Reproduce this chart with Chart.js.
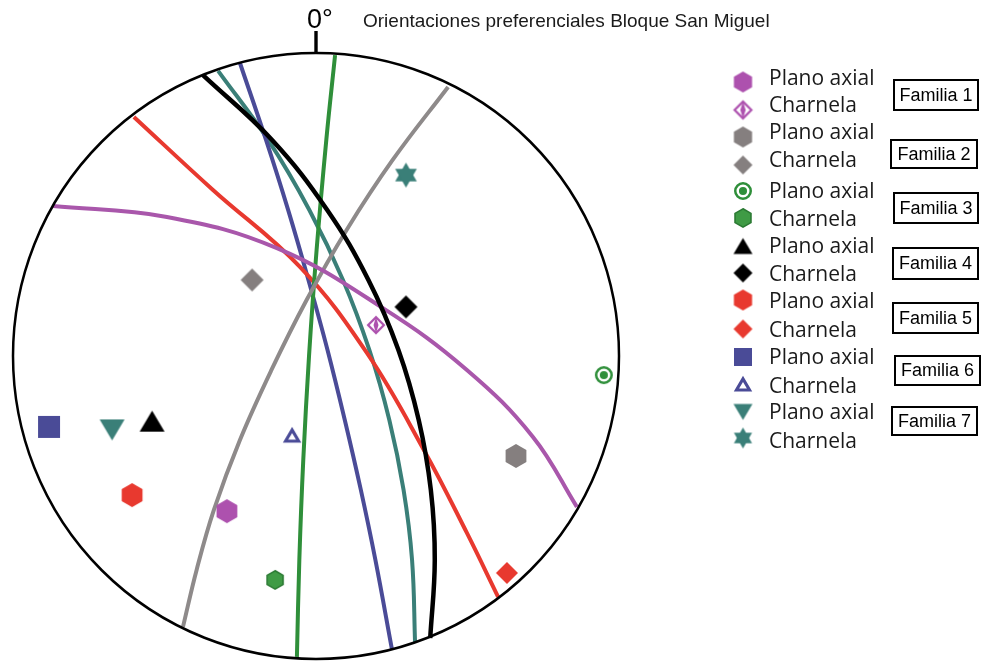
<!DOCTYPE html>
<html>
<head>
<meta charset="utf-8">
<script src="https://cdn.jsdelivr.net/npm/chart.js@4"></script>
<style>
  html, body { margin: 0; padding: 0; background: #ffffff; }
  canvas { display: block; }
</style>
</head>
<body>
<canvas id="c" width="984" height="661"></canvas>
<script>
// Familias de pliegues y tipo de elemento medido
const familias = ['Familia 1', 'Familia 2', 'Familia 3', 'Familia 4', 'Familia 5', 'Familia 6', 'Familia 7'];
const tipos = ['Plano axial', 'Charnela'];

// Polos proyectados (círculo unidad, norte arriba)
const planoAxialX = [-0.294, 0.660, 0.950, -0.541, -0.607, -0.881, -0.673];
const planoAxialY = [-0.512, -0.330, -0.063, -0.215, -0.459, -0.234, -0.244];
const charnelaX   = [ 0.198, -0.211, -0.135, 0.297, 0.630, -0.079, 0.297];
const charnelaY   = [ 0.102,  0.251, -0.739, 0.162, -0.716, -0.261, 0.597];

// Círculos máximos de los planos axiales
const circulo1 = [[-0.868, 0.495], [-0.492, 0.459], [-0.129, 0.356], [0.221, 0.158], [0.498, -0.046], [0.716, -0.267], [0.861, -0.498]];
const circulo2 = [[0.436, 0.888], [0.253, 0.647], [0.101, 0.416], [-0.031, 0.185], [-0.147, -0.046], [-0.251, -0.277], [-0.337, -0.508], [-0.394, -0.706], [-0.439, -0.894]];
const circulo3 = [[0.063, 0.993], [0.034, 0.713], [0.002, 0.350], [-0.023, 0.000], [-0.042, -0.343], [-0.055, -0.673], [-0.063, -0.993]];
const circulo4 = [[-0.373, 0.927], [-0.145, 0.713], [0.037, 0.482], [0.173, 0.251], [0.272, 0.020], [0.339, -0.211], [0.379, -0.442], [0.392, -0.673], [0.377, -0.931]];
const circulo5 = [[-0.601, 0.789], [-0.340, 0.548], [-0.053, 0.294], [0.168, 0.010], [0.356, -0.310], [0.498, -0.584], [0.601, -0.795]];
const circulo6 = [[-0.251, 0.967], [-0.165, 0.713], [-0.092, 0.482], [-0.025, 0.251], [0.038, 0.020], [0.095, -0.211], [0.148, -0.442], [0.196, -0.673], [0.251, -0.970]];
const circulo7 = [[-0.323, 0.941], [-0.158, 0.713], [-0.022, 0.482], [0.089, 0.251], [0.176, 0.020], [0.242, -0.211], [0.289, -0.442], [0.317, -0.673], [0.327, -0.947]];
const circulos = [circulo1, circulo2, circulo3, circulo4, circulo5, circulo6, circulo7];

// Estilos
const colorMarca = ['#AD51AE', '#857F7F', '#2F8F3A', '#000000', '#E8392F', '#4A4B97', '#3A7F78'];
const colorLinea = ['#A957AB', '#8E8A8A', '#2F8F3A', '#000000', '#E8392F', '#4A4B97', '#3A7F78'];
const anchoLinea = [4, 4, 4, 4.5, 4, 4, 4];

function poly(g, cx, cy, r, n, start) {
  g.beginPath();
  for (let k = 0; k < n; k++) {
    const a = (start + k * 360 / n) * Math.PI / 180;
    const px = cx + r * Math.cos(a), py = cy + r * Math.sin(a);
    if (k === 0) g.moveTo(px, py); else g.lineTo(px, py);
  }
  g.closePath();
}

// Dibuja un símbolo en un lienzo pequeño para usarlo como pointStyle
function marca(kind, s, color) {
  const w = Math.ceil(s + 6);
  const c = document.createElement('canvas');
  c.width = w; c.height = w;
  const g = c.getContext('2d');
  const m = w / 2, r = s / 2;
  g.fillStyle = color; g.strokeStyle = color;
  g.lineJoin = 'miter';
  switch (kind) {
    case 'hex':
      poly(g, m, m, r, 6, -90); g.fill(); break;
    case 'hexBorde':
      poly(g, m, m, r - 0.8, 6, -90); g.fillStyle = '#3F9B45'; g.fill();
      g.lineWidth = 1.6; g.strokeStyle = '#2B7A33'; g.stroke(); break;
    case 'rombo':
      poly(g, m, m, r, 4, -90); g.fill(); break;
    case 'romboAbierto':
      poly(g, m, m, r - 1.1, 4, -90); g.lineWidth = 2.2; g.stroke();
      g.beginPath();
      g.moveTo(m, m - r + 1); g.lineTo(m + r * 0.28, m); g.lineTo(m, m + r - 1); g.lineTo(m - r * 0.28, m);
      g.closePath(); g.fill(); break;
    case 'diana':
      g.lineWidth = s * 0.14;
      g.beginPath(); g.arc(m, m, r - s * 0.07, 0, Math.PI * 2); g.stroke();
      g.beginPath(); g.arc(m, m, r * 0.45, 0, Math.PI * 2); g.fill(); break;
    case 'triangulo': {
      const h = s * 0.84;
      g.beginPath(); g.moveTo(m, m - h / 2); g.lineTo(m + r, m + h / 2); g.lineTo(m - r, m + h / 2); g.closePath(); g.fill(); break;
    }
    case 'trianguloInv': {
      const h = s * 0.84;
      g.beginPath(); g.moveTo(m, m + h / 2); g.lineTo(m + r, m - h / 2); g.lineTo(m - r, m - h / 2); g.closePath(); g.fill(); break;
    }
    case 'trianguloAbierto': {
      const h = s * 0.84, lw = s * 0.17;
      g.lineWidth = lw; g.lineJoin = 'miter';
      g.beginPath(); g.moveTo(m, m - h / 2 + lw * 0.8); g.lineTo(m + r - lw * 0.8, m + h / 2 - lw / 2); g.lineTo(m - r + lw * 0.8, m + h / 2 - lw / 2); g.closePath();
      g.fillStyle = '#ffffff'; g.fill(); g.stroke(); break;
    }
    case 'cuadrado':
      g.fillRect(m - r, m - r, s, s); break;
    case 'estrella':
      poly(g, m, m, r, 3, -90); g.fill();
      poly(g, m, m, r, 3, 90); g.fill(); break;
  }
  return c;
}

const formaPA = ['hex', 'hex', 'diana', 'triangulo', 'hex', 'cuadrado', 'trianguloInv'];
const tamPA   = [24, 24, 18, 25, 24, 22, 25];
const formaCH = ['romboAbierto', 'rombo', 'hexBorde', 'rombo', 'rombo', 'trianguloAbierto', 'estrella'];
const tamCH   = [18, 23, 20, 23, 22, 18, 25];
const tamLeyPA = [21, 21, 18, 19, 21, 18, 19];
const tamLeyCH = [19, 19, 20, 19, 19, 18, 21];

const estilosPA = formaPA.map((f, i) => marca(f, tamPA[i], colorMarca[i]));
const estilosCH = formaCH.map((f, i) => marca(f, tamCH[i], colorMarca[i]));
const leyPA = formaPA.map((f, i) => marca(f, tamLeyPA[i], colorMarca[i]));
const leyCH = formaCH.map((f, i) => marca(f, tamLeyCH[i], colorMarca[i]));

const datasets = [];
datasets.push({
  label: tipos[0],
  data: planoAxialX.map((x, i) => ({ x: x, y: planoAxialY[i] })),
  pointStyle: estilosPA, pointRadius: 10, showLine: false, order: 0
});
datasets.push({
  label: tipos[1],
  data: charnelaX.map((x, i) => ({ x: x, y: charnelaY[i] })),
  pointStyle: estilosCH, pointRadius: 10, showLine: false, order: 0
});
circulos.forEach((cc, i) => {
  datasets.push({
    label: familias[i],
    data: cc.map(p => ({ x: p[0], y: p[1] })),
    showLine: true, fill: false, tension: 0.4,
    borderColor: colorLinea[i], borderWidth: anchoLinea[i],
    pointRadius: 0, order: 1 + (i === 3 ? 0 : 1)
  });
});

// Primitiva de la red, marca del norte, título y leyenda
const estereograma = {
  id: 'estereograma',
  afterDatasetsDraw(chart) {
    const ctx = chart.ctx, sx = chart.scales.x, sy = chart.scales.y;
    const cx = sx.getPixelForValue(0), cy = sy.getPixelForValue(0);
    const r = sx.getPixelForValue(1) - cx;
    ctx.save();
    ctx.strokeStyle = '#000'; ctx.lineWidth = 2.5;
    ctx.beginPath(); ctx.arc(cx, cy, r, 0, Math.PI * 2); ctx.stroke();
    ctx.lineWidth = 3.4;
    ctx.beginPath(); ctx.moveTo(cx, cy - r + 1); ctx.lineTo(cx, cy - r - 22); ctx.stroke();
    ctx.restore();
  },
  afterDraw(chart) {
    const ctx = chart.ctx;
    ctx.save();
    ctx.fillStyle = '#000';
    ctx.textBaseline = 'alphabetic';
    ctx.font = '27px "Liberation Sans", Arial, sans-serif';
    ctx.fillText('0°', 307, 28);
    ctx.font = '19px "Liberation Sans", Arial, sans-serif';
    ctx.fillStyle = '#1a1a1a';
    ctx.fillText('Orientaciones preferenciales Bloque San Miguel', 363, 27);

    // leyenda
    const yTexto = [77, 104, 131, 159, 190, 218, 245, 273, 300, 329, 356, 385, 411, 440];
    const yMarca = [82, 110, 137, 165, 191, 218, 246, 273, 300, 329, 357, 384, 412, 438];
    ctx.font = '21px "Open Sans", sans-serif';
    ctx.fillStyle = '#1a1a1a';
    for (let i = 0; i < familias.length; i++) {
      for (let t = 0; t < 2; t++) {
        const row = 2 * i + t;
        const img = t === 0 ? leyPA[i] : leyCH[i];
        ctx.drawImage(img, 743 - img.width / 2, yMarca[row] - img.height / 2);
        ctx.fillText(tipos[t], 769, yTexto[row] + 7.5);
      }
    }
    const cajas = [[894, 80, 978, 110], [891, 140, 977, 168], [894, 193, 978, 223], [893, 248, 978, 279],
                   [893, 303, 978, 333], [895, 356, 980, 385], [892, 407, 977, 435]];
    ctx.lineWidth = 2; ctx.strokeStyle = '#000';
    ctx.font = '18px "Liberation Sans", Arial, sans-serif';
    ctx.textAlign = 'center';
    ctx.textBaseline = 'middle';
    cajas.forEach((b, i) => {
      ctx.strokeRect(b[0], b[1], b[2] - b[0], b[3] - b[1]);
      ctx.fillStyle = '#000';
      ctx.fillText(familias[i], (b[0] + b[2]) / 2, (b[1] + b[3]) / 2 + 1);
    });
    ctx.restore();
  }
};

new Chart(document.getElementById('c'), {
  type: 'scatter',
  data: { datasets: datasets },
  options: {
    responsive: false,
    animation: false,
    events: [],
    layout: { autoPadding: false, padding: { left: 13, right: 365, top: 53, bottom: 2 } },
    scales: {
      x: { type: 'linear', min: -1, max: 1, display: false },
      y: { type: 'linear', min: -1, max: 1, display: false }
    },
    plugins: { legend: { display: false }, tooltip: { enabled: false }, title: { display: false } }
  },
  plugins: [estereograma]
});
</script>
</body>
</html>
